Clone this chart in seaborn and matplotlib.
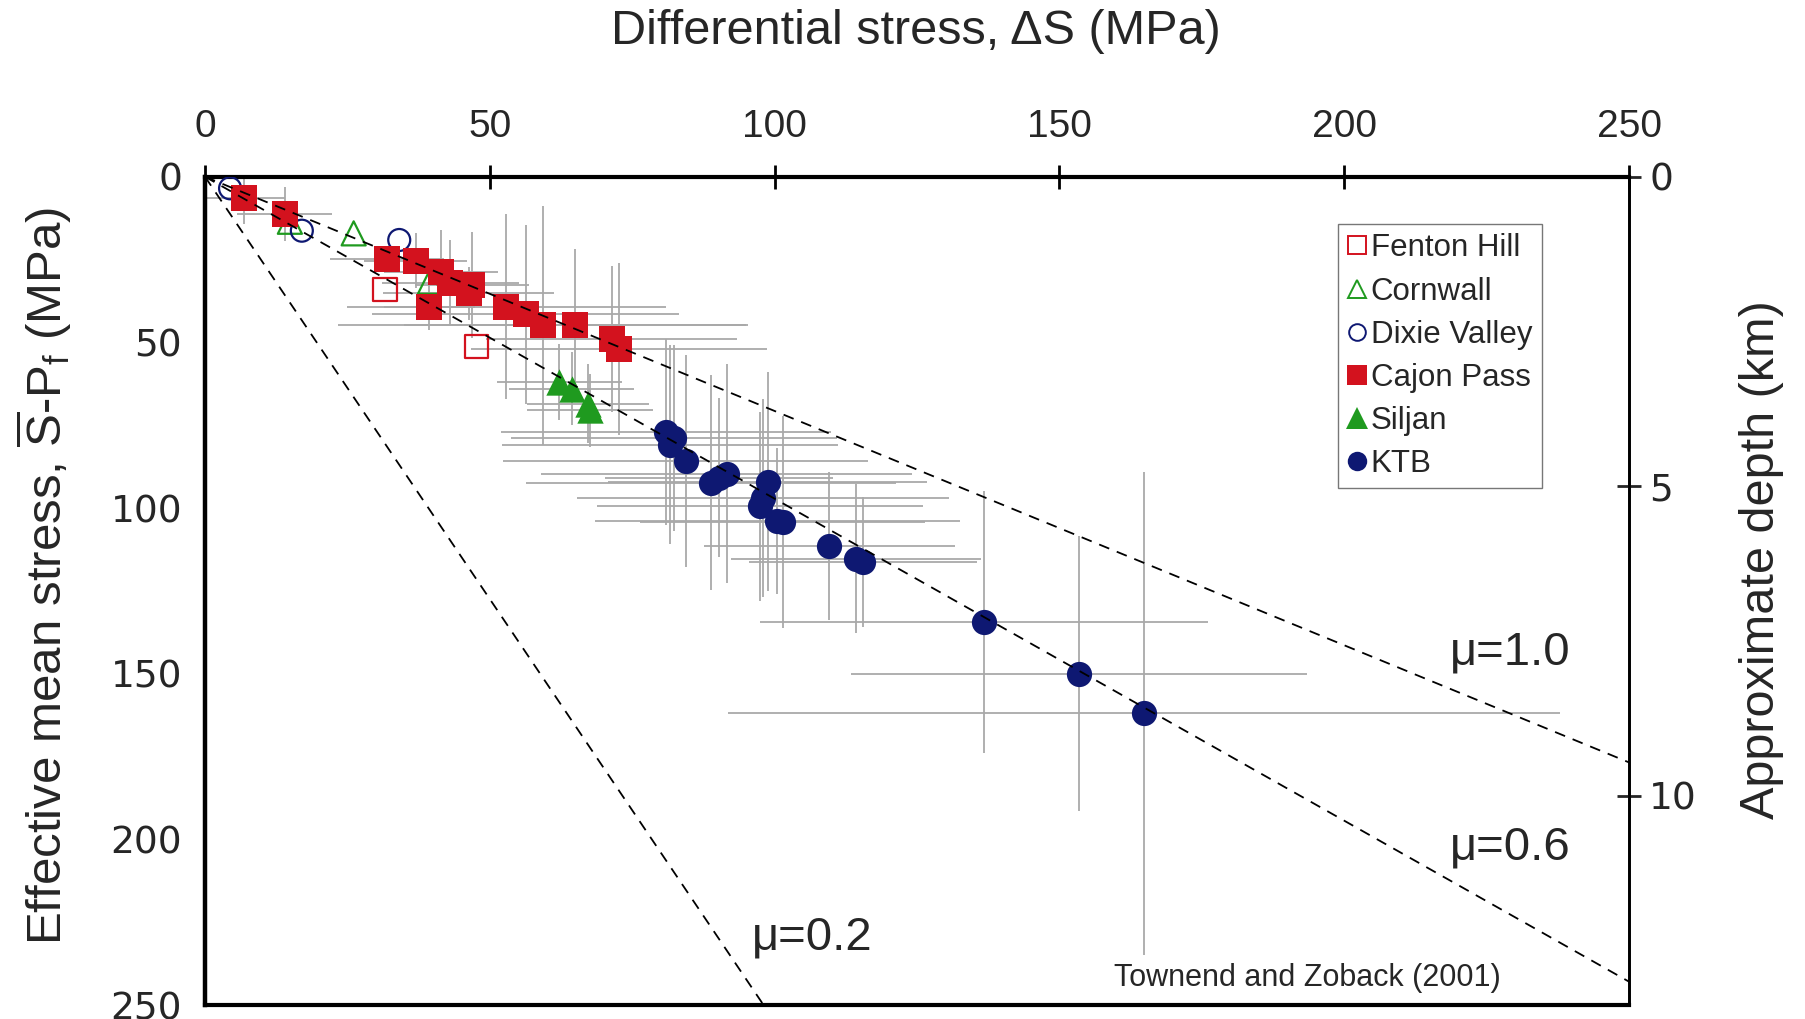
import numpy as np
import pandas as pd
import matplotlib
matplotlib.use("Agg")
import matplotlib.pyplot as plt
from matplotlib.lines import Line2D
import seaborn as sns

# ---------------- data ----------------
fenton_x = [31.6, 47.7]
fenton_y = [34.0, 51.2]

cornwall_x = [14.9, 26.1, 39.5]
cornwall_y = [13.6, 17.1, 31.7]

dixie_x = [4.4, 17.0, 34.1]
dixie_y = [3.5, 16.3, 19.1]

cajon_x = [6.8, 14.0, 31.9, 37.0, 41.5, 43.1, 46.8, 46.3, 39.4, 52.9, 56.3, 59.4, 64.9, 71.4, 72.7]
cajon_y = [6.5, 11.2, 24.8, 25.3, 28.9, 32.1, 32.6, 35.2, 39.4, 39.2, 41.5, 44.9, 44.9, 48.9, 52.0]
cajon_xerr = [7.3, 8.3, 10, 9, 10, 12, 10, 15, 8, 28, 27, 36, 30, 22, 26]
cajon_yerr = [7.7, 8.2, 4, 8.3, 12.8, 13, 16, 8, 7, 28, 27, 36, 23, 22, 26]

siljan_x = [62.2, 64.4, 67.3, 67.6]
siljan_y = [62.0, 64.0, 68.5, 70.5]
siljan_xerr = [11, 11, 10.7, 11]
siljan_yerr = [11.5, 11, 12, 11]

ktb_x = [80.9, 82.4, 81.7, 84.4, 88.9, 90.3, 91.6, 98.8, 98.0, 97.5, 100.5, 101.4,
         109.6, 114.3, 115.5, 136.8, 153.5, 164.8]
ktb_y = [77.0, 78.9, 80.9, 85.8, 92.4, 90.9, 89.6, 92.0, 97.0, 99.5, 104.0, 104.3,
         111.5, 115.3, 116.3, 134.5, 150.0, 162.0]
ktb_xerr = [29, 28.6, 29.5, 32, 32.5, 20, 32.6, 28, 32.7, 28.6, 32, 25,
            22, 22, 20, 39.3, 40, 73]
ktb_yerr = [28, 28, 30, 32, 32.4, 24, 33, 33, 30, 28.6, 22, 32,
            22.4, 22.4, 19.6, 39.5, 41.5, 73]

mu_values = [1.0, 0.6, 0.2]
mu_labels = ["\u03bc=1.0", "\u03bc=0.6", "\u03bc=0.2"]
mu_label_pos = [(229.1, 143.7), (229.1, 202.5), (106.6, 229.6)]

x_ticks = [0, 50, 100, 150, 200, 250]
y_ticks = [0, 50, 100, 150, 200, 250]
depth_ticks = [0, 5, 10]
mpa_per_km = 18.68

# ---------------- styling ----------------
sns.set_style("white")
plt.rcParams["font.family"] = ["Liberation Sans", "DejaVu Sans"]
plt.rcParams["mathtext.fontset"] = "custom"
plt.rcParams["mathtext.rm"] = "Liberation Sans"
plt.rcParams["mathtext.it"] = "Liberation Sans:italic"

RED = "#d3121e"
GREEN = "#1f9a1f"
NAVY = "#0e1872"
GREY = "#a9a9a9"

W, H = 1805, 1019
fig = plt.figure(figsize=(W / 100, H / 100), dpi=100)
L, R, T, B = 205, 1629, 176.7, 1005
ax = fig.add_axes([L / W, 1 - B / H, (R - L) / W, (B - T) / H])

# error bars
for xs, ys, xe, ye in [(cajon_x, cajon_y, cajon_xerr, cajon_yerr),
                       (siljan_x, siljan_y, siljan_xerr, siljan_yerr),
                       (ktb_x, ktb_y, ktb_xerr, ktb_yerr)]:
    ax.errorbar(xs, ys, xerr=xe, yerr=ye, fmt="none", ecolor=GREY,
                elinewidth=1.3, capsize=0, zorder=1)

# friction lines
s_line = np.array([0.0, 300.0])
for mu in mu_values:
    k = 2 * mu / np.sqrt(mu ** 2 + 1)
    df_line = pd.DataFrame({"ds": k * s_line, "s": s_line})
    ax.plot(df_line["ds"], df_line["s"], color="black", lw=1.3,
            dashes=(6, 4.5), zorder=4)

# markers
def scat(xs, ys, marker, size, color, filled):
    df = pd.DataFrame({"x": xs, "y": ys})
    if filled:
        sns.scatterplot(data=df, x="x", y="y", marker=marker, s=size, color=color,
                        linewidth=0, ax=ax, zorder=3, legend=False)
    else:
        sns.scatterplot(data=df, x="x", y="y", marker=marker, s=size,
                        facecolor="none", edgecolor=color, linewidth=1.6,
                        ax=ax, zorder=3, legend=False)

scat(fenton_x, fenton_y, "s", 285, RED, False)
scat(cornwall_x, cornwall_y, "^", 300, GREEN, False)
scat(dixie_x, dixie_y, "o", 250, NAVY, False)
scat(cajon_x, cajon_y, "s", 370, RED, True)
scat(siljan_x, siljan_y, "^", 360, GREEN, True)
scat(ktb_x, ktb_y, "o", 330, NAVY, True)

ax.set_xlim(0, 250)
ax.set_ylim(250, 0)
ax.set_xlabel("")
ax.set_ylabel("")
ax.xaxis.tick_top()
ax.set_xticks(x_ticks)
ax.set_yticks(y_ticks)
ax.set_xticklabels([str(v) for v in x_ticks], fontsize=28)
ax.set_yticklabels([str(v) for v in y_ticks], fontsize=27, family="DejaVu Sans")
ax.tick_params(axis="both", direction="inout", length=17, width=2, color="black")
ax.tick_params(axis="x", pad=14)
ax.tick_params(axis="y", pad=8)
for side, lw in [("left", 3.2), ("top", 3), ("bottom", 3), ("right", 2)]:
    ax.spines[side].set_visible(True)
    ax.spines[side].set_color("black")
    ax.spines[side].set_linewidth(lw)

sec = ax.secondary_yaxis("right", functions=(lambda y: y / mpa_per_km,
                                             lambda d: d * mpa_per_km))
sec.set_yticks(depth_ticks)
sec.set_yticklabels([str(v) for v in depth_ticks], fontsize=27, family="DejaVu Sans")
sec.tick_params(direction="inout", length=17, width=2, pad=6)
sec.spines["right"].set_linewidth(2)

# labels
fig.text(916 / W, 1 - 32 / H, "Differential stress, \u0394S (MPa)", fontsize=35,
         ha="center", va="center")
fig.text(44 / W, 1 - 576 / H,
         r"Effective mean stress, $\overline{\mathrm{S}}$-P$_\mathrm{f}$ (MPa)",
         fontsize=35.5, rotation=90, ha="center", va="center")
fig.text(1761 / W, 1 - 560 / H, "Approximate depth (km)", fontsize=35,
         rotation=90, ha="center", va="center")

for lab, (px, py) in zip(mu_labels, mu_label_pos):
    ax.text(px, py, lab, fontsize=34, ha="center", va="center", zorder=5)
ax.text(193.6, 241.7, "Townend and Zoback (2001)", fontsize=22,
        ha="center", va="center", zorder=5)

# legend
handles = [
    Line2D([], [], ls="none", marker="s", ms=13, mfc="none", mec=RED, mew=1.4),
    Line2D([], [], ls="none", marker="^", ms=13, mfc="none", mec=GREEN, mew=1.4),
    Line2D([], [], ls="none", marker="o", ms=12, mfc="none", mec=NAVY, mew=1.4),
    Line2D([], [], ls="none", marker="s", ms=15, color=RED, mew=0),
    Line2D([], [], ls="none", marker="^", ms=16, color=GREEN, mew=0),
    Line2D([], [], ls="none", marker="o", ms=14, color=NAVY, mew=0),
]
labels = ["Fenton Hill", "Cornwall", "Dixie Valley", "Cajon Pass", "Siljan", "KTB"]
leg = ax.legend(handles, labels, loc="upper left",
                bbox_to_anchor=((1338 - L) / (R - L), 1 - (224 - T) / (B - T)),
                borderaxespad=0, fontsize=22.5, frameon=True, fancybox=False,
                edgecolor="#777777", framealpha=1, handlelength=0.6,
                handletextpad=0.15, labelspacing=0.42, borderpad=0.3)
leg.get_frame().set_linewidth(1.0)

fig.savefig("out.png", dpi=100)
